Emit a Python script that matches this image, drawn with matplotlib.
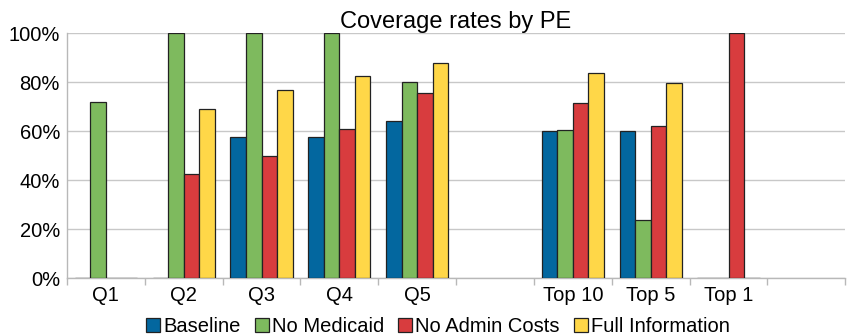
import numpy as np
from matplotlib import pyplot as plt
from matplotlib.ticker import FuncFormatter, FixedLocator

plt.rcParams['font.family'] = ['Liberation Sans', 'DejaVu Sans']

categories = ["Q1", "Q2", "Q3", "Q4", "Q5", "", "Top 10", "Top 5", "Top 1", ""]
series_names = ["Baseline", "No Medicaid", "No Admin Costs", "Full Information"]
colors = ["#03679f", "#7eba5e", "#d83c3e", "#ffd748"]

baseline = [0, 0, 57.7, 57.4, 64, 0, 60.2, 60.2, 0, 0]
no_medicaid = [72, 100, 100, 100, 80.2, 0, 60.5, 23.8, 0, 0]
no_admin = [0, 42.5, 50, 61, 75.6, 0, 71.5, 62.2, 100, 0]
full_info = [0, 69.2, 76.7, 82.4, 88, 0, 83.8, 79.8, 0, 0]
values = [baseline, no_medicaid, no_admin, full_info]
# empty slots have no bars at all
present = [True, True, True, True, True, False, True, True, True, False]

fig = plt.figure(figsize=(8.47, 3.35), dpi=100)
ax = fig.add_axes([0.079, 0.170, 0.919, 0.731])

x = np.arange(len(categories))
width = 0.2
for i, (name, vals, col) in enumerate(zip(series_names, values, colors)):
    xs = [xi - 0.3 + i * width for xi, p in zip(x, present) if p]
    hs = [v for v, p in zip(vals, present) if p]
    ax.bar(xs, hs, width, color=col, edgecolor="#222222", linewidth=0.9,
           label=name, zorder=3)

ax.set_xlim(-0.5, len(categories) - 0.5)
ax.set_ylim(0, 100)
ax.set_yticks([0, 20, 40, 60, 80, 100])
ax.yaxis.set_major_formatter(FuncFormatter(lambda v, p: "%d%%" % v))
ax.grid(axis="y", color="#c8c8c8", linewidth=1, zorder=0)

ax.set_xticks(x)
ax.set_xticklabels(categories)
ax.xaxis.set_minor_locator(FixedLocator(np.arange(-0.5, len(categories), 1.0)))
ax.tick_params(axis="x", which="major", length=0, labelsize=14.5, pad=6)
ax.tick_params(axis="x", which="minor", length=5, color="#b8b8b8", width=1)
ax.tick_params(axis="y", length=0, labelsize=14.5, pad=5)

for s in ["top", "right"]:
    ax.spines[s].set_visible(False)
for s in ["left", "bottom"]:
    ax.spines[s].set_color("#b8b8b8")
    ax.spines[s].set_linewidth(1)

ax.set_title("Coverage rates by PE", fontsize=17, pad=2)

fig.legend(loc="center", bbox_to_anchor=(0.517, 0.025), ncol=4,
           frameon=False, fontsize=14.5, handlelength=0.7, handleheight=0.7,
           handletextpad=0.15, columnspacing=0.7, borderaxespad=0,
           borderpad=0)

fig.savefig("out.png", dpi=100)
